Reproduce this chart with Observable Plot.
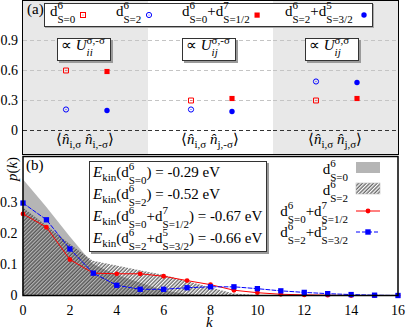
<!DOCTYPE html>
<html><head><meta charset="utf-8">
<script src="https://cdn.jsdelivr.net/npm/d3@7"></script>
<script src="https://cdn.jsdelivr.net/npm/@observablehq/plot@0.6"></script>
<style>
body{margin:0;background:#fff;}
#wrap{position:relative;width:407px;height:330px;overflow:hidden;font-family:"Liberation Serif","Times New Roman",serif;color:#000;}
#wrap svg.plot{position:absolute;left:0;}
.t{position:absolute;white-space:nowrap;font-size:15px;line-height:16px;}
.ss{display:inline-block;vertical-align:-7px;font-size:11px;line-height:13.5px;text-align:left;}
.ss>span{display:block;}
.sb{font-size:11px;vertical-align:-4px;}
.box{position:absolute;background:#fff;border:1px solid #333;box-shadow:2px 2px 0 #9a9a9a;box-sizing:border-box;}
.frameA{position:absolute;left:21.5px;top:0;width:377px;height:155px;border:1.5px solid #000;box-sizing:border-box;pointer-events:none;}
</style></head>
<body><div id="wrap"></div>
<script>
// ---------- data: panel (a) ----------
const pairGroups = ["ii,σ-σ", "ij,σ-σ", "ij,σσ"];
const groupShaded = [true, false, true];
const slots = ["single", "pair"];
const valS0 = [0.60, 0.30, 0.30];      // d6 S=0 (open square)
const valS2 = [0.21, 0.21, 0.49];      // d6 S=2 (open circle)
const valS0S12 = [0.59, 0.32, 0.32];   // d6 S=0 + d7 S=1/2 (filled square)
const valS2S32 = [0.20, 0.19, 0.48];   // d6 S=2 + d5 S=3/2 (filled circle)
const yTicksA = [0, 0.3, 0.6, 0.9];

// ---------- data: panel (b) ----------
const kVals = [0,1,2,3,4,5,6,7,8,9,10,11,12,13,14,15,16];
const pS0   = [0.375,0.285,0.19,0.10,0.065,0.04,0.015,0.003,0,0,0,0,0,0,0,0,0];
const pS2   = [0.283,0.225,0.165,0.11,0.095,0.08,0.065,0.045,0.025,0.005,0,0,0,0,0,0,0];
const pRed  = [0.263,0.22,0.116,0.072,0.07,0.07,0.062,0.048,0.035,0.017,0.009,0.004,0.002,0.001,0,0,0];
const pBlue = [0.298,0.244,0.15,0.072,0.033,0.02,0.02,0.025,0.028,0.028,0.022,0.015,0.01,0.006,0.003,0.001,0];
const yTicksB = [0, 0.1, 0.2, 0.3];
const kTicks = [0,2,4,6,8,10,12,14,16];

const serif = "'Liberation Serif', 'Times New Roman', serif";
const font = {fontFamily: serif, fontSize: "14px", color: "#000", background: "transparent"};
const fmt = d => d === 0 ? "0" : d3.format(".1f")(d);
const wrap = document.getElementById("wrap");
const serifize = svg => {
  d3.select(svg).attr("font-family", serif).attr("font-size", 14);
  d3.select(svg).selectAll("g, text").attr("font-family", serif).style("font-family", serif);
  d3.select(svg).selectAll("text").style("font-size", "14px").attr("fill", "#000");
};

// ---------- panel (a) ----------
const rowsFor = (vals, slot) => pairGroups.map((g, i) => ({group: g, slot, value: vals[i]}));
const shadedRows = pairGroups.filter((g, i) => groupShaded[i]).map(g => ({group: g}));
const rS0 = rowsFor(valS0, "single"), rS2 = rowsFor(valS2, "single");
const rS0S12 = rowsFor(valS0S12, "pair"), rS2S32 = rowsFor(valS2S32, "pair");

const plotA = Plot.plot({
  width: 407, height: 155,
  marginLeft: 22.5, marginRight: 9.5, marginTop: 1, marginBottom: 1,
  style: font,
  fx: {domain: pairGroups, padding: 0, axis: null, label: null},
  x: {type: "point", domain: slots, padding: 1, axis: null},
  y: {domain: [-0.24, 1.29], ticks: yTicksA, tickFormat: fmt, tickSize: 0, tickPadding: 5.5, label: null},
  marks: [
    Plot.rect(shadedRows, {fx: "group", fill: "#e8e8e8"}),
    Plot.ruleY(yTicksA.filter(d => d !== 0), {stroke: "#c4c4c4", strokeDasharray: "4,3"}),
    Plot.ruleY([0], {stroke: "#333", strokeDasharray: "4,3", strokeWidth: 1.1}),
    Plot.dot(rS0, {fx: "group", x: "slot", y: "value", symbol: "square", r: 2.8, stroke: "#f00", fill: "none", strokeWidth: 1}),
    Plot.dot(rS0, {fx: "group", x: "slot", y: "value", r: 0.5, fill: "#f00", stroke: "none"}),
    Plot.dot(rS2, {fx: "group", x: "slot", y: "value", r: 2.6, stroke: "#00f", fill: "none", strokeWidth: 1}),
    Plot.dot(rS2, {fx: "group", x: "slot", y: "value", r: 0.5, fill: "#00f", stroke: "none"}),
    Plot.dot(rS0S12, {fx: "group", x: "slot", y: "value", symbol: "square", r: 2.9, fill: "#f00", stroke: "none"}),
    Plot.dot(rS2S32, {fx: "group", x: "slot", y: "value", r: 2.7, fill: "#00f", stroke: "none"})
  ]
});
plotA.classList.add("plot");
plotA.style.top = "0px";
serifize(plotA);
wrap.appendChild(plotA);

// ---------- panel (b) ----------
const kRows = kVals.map((k, i) => ({k, s0: pS0[i], s2: pS2[i], red: pRed[i], blue: pBlue[i]}));
const plotB = Plot.plot({
  width: 407, height: 175,
  marginLeft: 22.5, marginRight: 9.5, marginTop: 1, marginBottom: 35,
  style: font,
  x: {domain: [0, 16], ticks: kTicks, tickFormat: d => String(d), tickSize: 0, tickPadding: 10, label: null},
  y: {domain: [0, 0.448], ticks: yTicksB, tickFormat: fmt, tickSize: 0, tickPadding: 5.5, label: null},
  marks: [
    Plot.areaY(kRows, {x: "k", y: "s0", fill: "#b5b5b5"}),
    Plot.areaY(kRows, {x: "k", y: "s2", fill: "url(#hatchB)"}),
    Plot.lineY(kRows, {x: "k", y: "red", stroke: "#f00", strokeWidth: 1}),
    Plot.lineY(kRows, {x: "k", y: "blue", stroke: "#00f", strokeWidth: 1, strokeDasharray: "4,2"}),
    Plot.dot(kRows, {x: "k", y: "red", r: 2.4, fill: "#f00", stroke: "none"}),
    Plot.dot(kRows, {x: "k", y: "blue", symbol: "square", r: 3, fill: "#00f", stroke: "none"}),
    Plot.frame({stroke: "#000", strokeWidth: 1.5})
  ]
});
plotB.classList.add("plot");
plotB.style.top = "155px";
serifize(plotB);
const defs = d3.select(plotB).insert("defs", ":first-child");
const pat = defs.append("pattern").attr("id", "hatchB").attr("patternUnits", "userSpaceOnUse")
  .attr("width", 2.6).attr("height", 2.6).attr("patternTransform", "rotate(45)");
pat.append("line").attr("x1", 1).attr("y1", 0).attr("x2", 1).attr("y2", 2.6).attr("stroke", "#333").attr("stroke-width", 1);
wrap.appendChild(plotB);

// ---------- overlays (text, legends, boxes) ----------
const ds = (sup, sub) => `d<span class="ss"><span>${sup}</span><span>${sub}</span></span>`;
const html = [];
html.push(`<div class="frameA"></div>`);
html.push(`<div class="t" style="left:27px;top:1px;">(a)</div>`);
html.push(`<div class="t" style="left:26px;top:157px;">(b)</div>`);
// legend (a)
html.push(`<div class="box" style="left:44px;top:3px;width:329px;height:24px;box-shadow:1px 1px 0 #aaa;"></div>`);
html.push(`<div class="t" style="left:50px;top:-1px;">${ds("6","S=0")}</div>`);
html.push(`<div class="t" style="left:116px;top:-1px;">${ds("6","S=2")}</div>`);
html.push(`<div class="t" style="left:182px;top:-1px;">${ds("6","S=0")}+${ds("7","S=1/2")}</div>`);
html.push(`<div class="t" style="left:285px;top:-1px;">${ds("6","S=2")}+${ds("5","S=3/2")}</div>`);
// proportional boxes
const ubox = (left, sup, sub) => `<div class="box" style="left:${left}px;top:38px;width:54px;height:23px;"></div>
 <div class="t" style="left:${left+4}px;top:34px;">∝ <i>U</i><span class="ss" style="vertical-align:-6px;line-height:12px;"><span>${sup}</span><span><i>${sub}</i></span></span></div>`;
html.push(ubox(57, "σ,-σ", "ii"));
html.push(ubox(182, "σ,-σ", "ij"));
html.push(ubox(305, "σ,σ", "ij"));
// bottom labels panel (a)
const nh = `<i>n̂</i>`;
const blab = (cx, a, b) => `<div class="t" style="left:${cx-40}px;width:80px;text-align:center;top:131px;">⟨${nh}<span class="sb">${a}</span> ${nh}<span class="sb">${b}</span>⟩</div>`;
html.push(blab(85, "i,σ", "i,-σ"));
html.push(blab(210, "i,σ", "j,-σ"));
html.push(blab(335, "i,σ", "j,σ"));
// energy box
html.push(`<div class="box" style="left:89px;top:161px;width:178px;height:91px;"></div>`);
const ek = (top, inner, val) => `<div class="t" style="left:93px;top:${top}px;"><i>E</i><span class="sb">kin</span>(${inner}) = ${val} eV</div>`;
html.push(ek(160, ds("6","S=0"), "-0.29"));
html.push(ek(182, ds("6","S=2"), "-0.52"));
html.push(ek(204, ds("6","S=0") + "+" + ds("7","S=1/2"), "-0.67"));
html.push(ek(226, ds("6","S=2") + "+" + ds("5","S=3/2"), "-0.66"));
// legend (b)
const rl = (top, inner) => `<div class="t" style="right:${407-348}px;top:${top}px;text-align:right;">${inner}</div>`;
html.push(rl(157, ds("6","S=0")));
html.push(rl(178, ds("6","S=2")));
html.push(rl(199, ds("6","S=0") + "+" + ds("7","S=1/2")));
html.push(rl(220, ds("6","S=2") + "+" + ds("5","S=3/2")));
// axis titles
html.push(`<div class="t" style="left:-8px;top:161px;width:40px;text-align:center;transform:rotate(-90deg);"><i>p</i>(<i>k</i>)</div>`);
html.push(`<div class="t" style="left:206px;top:314px;"><i>k</i></div>`);
// swatches
html.push(`<svg width="407" height="330" style="position:absolute;left:0;top:0;pointer-events:none;">
 <defs><pattern id="hatchL" patternUnits="userSpaceOnUse" width="2.6" height="2.6" patternTransform="rotate(45)"><line x1="1" y1="0" x2="1" y2="2.6" stroke="#333" stroke-width="1"/></pattern></defs>
 <rect x="80.5" y="12.5" width="5" height="5" fill="none" stroke="#f00"/><circle cx="83" cy="15" r="0.5" fill="#f00"/>
 <circle cx="149" cy="15" r="2.6" fill="none" stroke="#00f"/><circle cx="149" cy="15" r="0.5" fill="#00f"/>
 <rect x="254.5" y="12.5" width="5.2" height="5.2" fill="#f00"/>
 <circle cx="364" cy="15" r="2.7" fill="#00f"/>
 <rect x="356" y="162" width="24" height="11" fill="#b5b5b5"/>
 <rect x="356" y="183" width="24" height="11" fill="url(#hatchL)" stroke="#bbb" stroke-width="0.6"/>
 <line x1="356" y1="211" x2="380" y2="211" stroke="#f00"/><circle cx="368" cy="211" r="2.4" fill="#f00"/>
 <line x1="356" y1="232" x2="380" y2="232" stroke="#00f" stroke-dasharray="4,2"/><rect x="365.3" y="229.3" width="5.4" height="5.4" fill="#00f"/>
</svg>`);
wrap.insertAdjacentHTML("beforeend", html.join("\n"));
</script>
</body></html>
